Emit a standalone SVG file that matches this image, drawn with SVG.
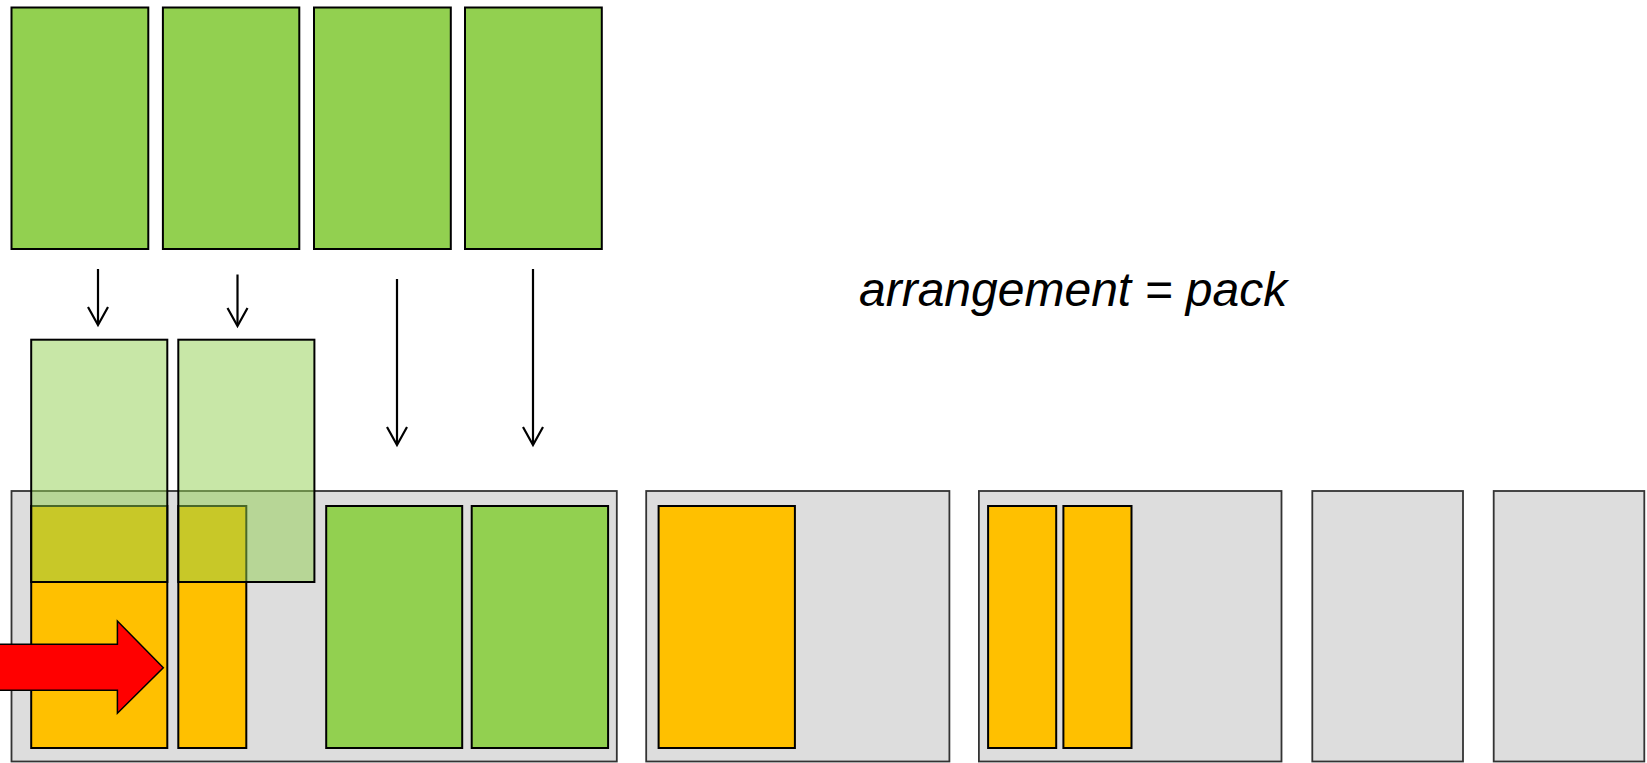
<svg xmlns="http://www.w3.org/2000/svg" width="1647" height="763" viewBox="0 0 1647 763">
  <style>
    .green { fill: #92D050; stroke: #000; stroke-width: 2; }
    .ghost { fill: #92D050; fill-opacity: 0.5; stroke: #000; stroke-width: 2; }
    .orange { fill: #FFC000; stroke: #000; stroke-width: 2; }
    .box { fill: #DDDDDD; stroke: #333; stroke-width: 1.8; }
    .conn { fill: none; stroke: #000; stroke-width: 2.2; }
    .label { font-family: "Liberation Sans", Arial, sans-serif; font-style: italic; font-size: 48px; fill: #000; }
  </style>
  <rect width="1647" height="763" fill="#fff"/>

  <g id="container1"><rect class="box" x="11.5" y="491" width="605.3" height="270.5"/></g>
  <g id="container2"><rect class="box" x="646.2" y="491" width="303.2" height="270.5"/></g>
  <g id="container3"><rect class="box" x="978.9" y="491" width="302.6" height="270.5"/></g>
  <g id="container4"><rect class="box" x="1312.3" y="491" width="150.7" height="270.5"/></g>
  <g id="container5"><rect class="box" x="1493.7" y="491" width="150.6" height="270.5"/></g>

  <g id="orange1"><rect class="orange" x="31.2" y="506" width="136.1" height="242"/></g>
  <g id="orange2"><rect class="orange" x="178.3" y="506" width="68" height="242"/></g>
  <g id="placed1"><rect class="green" x="326.2" y="506" width="136" height="242"/></g>
  <g id="placed2"><rect class="green" x="471.7" y="506" width="136.4" height="242"/></g>
  <g id="orange3"><rect class="orange" x="658.6" y="506" width="136.3" height="242"/></g>
  <g id="orange4"><rect class="orange" x="988.1" y="506" width="68.1" height="242"/></g>
  <g id="orange5"><rect class="orange" x="1063.4" y="506" width="68.1" height="242"/></g>

  <g id="ghost1"><rect class="ghost" x="31.2" y="339.7" width="136.1" height="242.3"/></g>
  <g id="ghost2"><rect class="ghost" x="178.3" y="339.7" width="136.1" height="242.3"/></g>

  <g id="source1"><rect class="green" x="11.5" y="7.5" width="136.8" height="241.5"/></g>
  <g id="source2"><rect class="green" x="162.9" y="7.5" width="136.4" height="241.5"/></g>
  <g id="source3"><rect class="green" x="314" y="7.5" width="136.8" height="241.5"/></g>
  <g id="source4"><rect class="green" x="465" y="7.5" width="136.8" height="241.5"/></g>

  <g id="redArrow"><polygon points="-5,644.3 117.4,644.3 117.4,621 163.3,667.7 117.4,713.3 117.4,690.3 -5,690.3" fill="#FF0000" stroke="#000" stroke-width="1.5"/></g>

  <g id="connectors">
    <line class="conn" x1="98" y1="269" x2="98" y2="324"/>
    <polyline class="conn" points="88,307 98,325 108,307"/>
    <line class="conn" x1="237.5" y1="274.5" x2="237.5" y2="325"/>
    <polyline class="conn" points="227.5,308 237.5,326 247.5,308"/>
    <line class="conn" x1="397" y1="279" x2="397" y2="444"/>
    <polyline class="conn" points="387,427 397,445 407,427"/>
    <line class="conn" x1="533" y1="269" x2="533" y2="444"/>
    <polyline class="conn" points="523,427 533,445 543,427"/>
  </g>

  <text class="label" x="859" y="305.5">arrangement = pack</text>
</svg>
